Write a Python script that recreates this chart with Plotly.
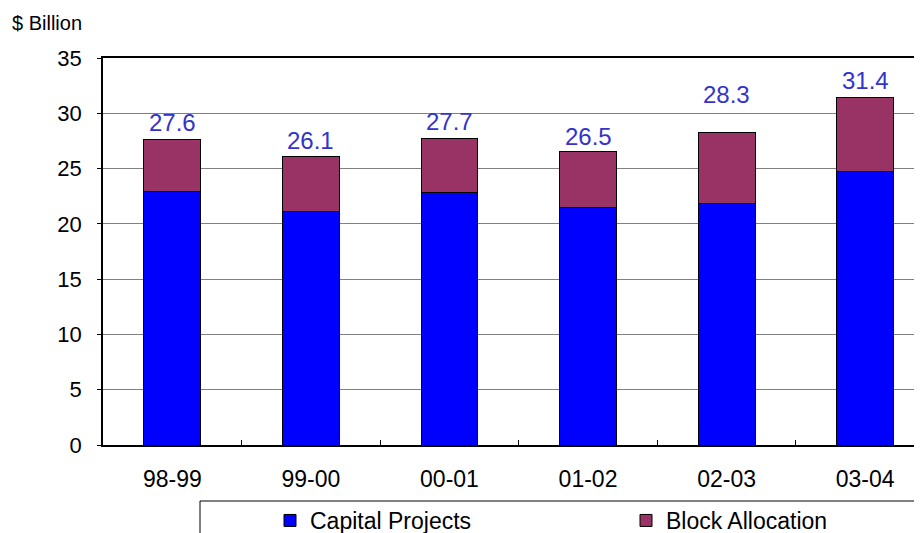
import plotly.graph_objects as go

categories = ["98-99", "99-00", "00-01", "01-02", "02-03", "03-04"]
capital_projects = [22.9, 21.1, 22.8, 21.5, 21.8, 24.7]
block_allocation = [4.7, 5.0, 4.9, 5.0, 6.5, 6.7]
totals = [27.6, 26.1, 27.7, 26.5, 28.3, 31.4]
y_ticks = [0, 5, 10, 15, 20, 25, 30, 35]

label_shift = [2, 0, 2, 0, 22, 2]

FONT = "Arial, Liberation Sans, sans-serif"

W, H = 914, 525
L, T, B = 95, 50, 88
PW, PH = W - L, H - T - B

fig = go.Figure()
fig.add_trace(go.Bar(
    x=categories, y=capital_projects, name="Capital Projects",
    marker=dict(color="#0000FF", line=dict(color="#000000", width=1)),
    width=0.41,
))
fig.add_trace(go.Bar(
    x=categories, y=block_allocation, name="Block Allocation",
    marker=dict(color="#993366", line=dict(color="#000000", width=1)),
    width=0.41,
))

for c, t, s in zip(categories, totals, label_shift):
    fig.add_annotation(
        x=c, y=t, text=f"{t:.1f}", showarrow=False, yanchor="bottom",
        yshift=s, font=dict(family=FONT, size=24, color="#3333CC"),
    )

fig.add_annotation(
    xref="paper", yref="paper", x=0, y=1,
    xanchor="left", yanchor="middle", xshift=2 - L, yshift=T - 15,
    text="$ Billion", showarrow=False,
    font=dict(family=FONT, size=20, color="#000000"),
)

# legend frame
fig.add_shape(
    type="rect", xref="paper", yref="paper",
    x0=(192 - L) / PW, x1=(907 - L) / PW,
    y0=(T + PH - 493) / PH, y1=(T + PH - 540) / PH,
    line=dict(color="#000000", width=1), fillcolor="rgba(0,0,0,0)",
)

fig.update_layout(
    barmode="stack",
    width=W, height=H,
    margin=dict(l=L, r=0, t=T, b=B, autoexpand=False),
    paper_bgcolor="white", plot_bgcolor="white",
    font=dict(family=FONT, size=23, color="#000000"),
    showlegend=True,
    legend=dict(
        orientation="h", xref="container", yref="container",
        x=262 / W, y=(H - 491) / H,
        xanchor="left", yanchor="top",
        borderwidth=0, bgcolor="rgba(0,0,0,0)",
        font=dict(family=FONT, size=23, color="#000000"),
        entrywidth=311, entrywidthmode="pixels",
        traceorder="normal",
    ),
    xaxis=dict(
        type="category",
        range=[-0.5, 5.41], showline=True, linecolor="#000000", linewidth=1.5,
        mirror=True, ticks="inside", tickson="boundaries", ticklen=5,
        tickcolor="#000000", showgrid=False, ticklabelstandoff=13,
        tickfont=dict(family=FONT, size=23, color="#000000"),
    ),
    yaxis=dict(
        range=[0, 35], tickvals=y_ticks, showline=True, linecolor="#000000",
        linewidth=1.5, showgrid=True, gridcolor="#808080", gridwidth=1,
        ticks="outside", ticklen=4, tickcolor="#000000",
        ticklabelstandoff=11, zeroline=False,
        tickfont=dict(family=FONT, size=22, color="#000000"),
    ),
)

fig.write_html("out.html")
